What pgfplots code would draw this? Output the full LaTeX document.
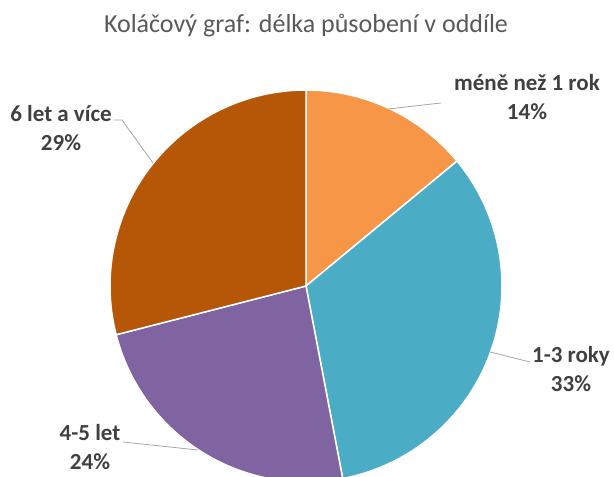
\documentclass[border=0pt]{standalone}
\usepackage{pgfplots}
\pgfplotsset{compat=1.18}
\usepackage{fontspec}
\setmainfont{Carlito}
\definecolor{sA}{HTML}{F79646}
\definecolor{sB}{HTML}{4BACC6}
\definecolor{sC}{HTML}{8064A2}
\definecolor{sD}{HTML}{B65708}
\definecolor{txt}{HTML}{404040}
\definecolor{ttl}{HTML}{595959}
\definecolor{lead}{HTML}{A6A6A6}
\begin{document}
\begin{tikzpicture}
\useasboundingbox (0,0) rectangle (614pt,477pt);
\clip (0,0) rectangle (614pt,477pt);
\begin{axis}[
  at={(0,0)}, anchor=south west,
  width=614pt, height=477pt, scale only axis,
  xmin=0, xmax=614, ymin=0, ymax=477,
  axis lines=none, clip=true,
]
% values (percent), starting at 12 o'clock, clockwise
\pgfplotsextra{
  \xdef\cum{0}
  \foreach \v/\c in {14/sA,33/sB,24/sC,29/sD}{
    \pgfmathsetmacro\a{90-3.6*\cum}
    \pgfmathsetmacro\b{90-3.6*(\cum+\v)}
    \fill[\c, draw=white, line width=1.5pt, line join=round]
      (axis cs:306,191) -- ++(\a:196pt) arc[start angle=\a, end angle=\b, radius=196pt] -- cycle;
    \pgfmathsetmacro\cumn{\cum+\v}
    \xdef\cum{\cumn}
  }
}
% leader lines
\draw[lead, line width=0.8pt] (axis cs:388,368) -- (axis cs:441,374);
\draw[lead, line width=0.8pt] (axis cs:490,125) -- (axis cs:530,115);
\draw[lead, line width=0.8pt] (axis cs:198,27) -- (axis cs:123,35);
\draw[lead, line width=0.8pt] (axis cs:153,314) -- (axis cs:122,357) -- (axis cs:114,357);
% labels
\begin{scope}[every node/.style={font=\fontsize{23}{29}\selectfont\bfseries, text=txt, align=center, inner sep=0pt}]
\node at (axis cs:527,380) {méně než 1 rok\\14\%};
\node at (axis cs:571,108) {1-3 roky\\33\%};
\node at (axis cs:90,30) {4-5 let\\24\%};
\node at (axis cs:61,349) {6 let a více\\29\%};
\end{scope}
\node[font=\fontsize{26}{30}\selectfont, text=ttl, inner sep=0pt] at (axis cs:306,451) {Koláčový graf: délka působení v oddíle};
\end{axis}
\end{tikzpicture}
\end{document}
